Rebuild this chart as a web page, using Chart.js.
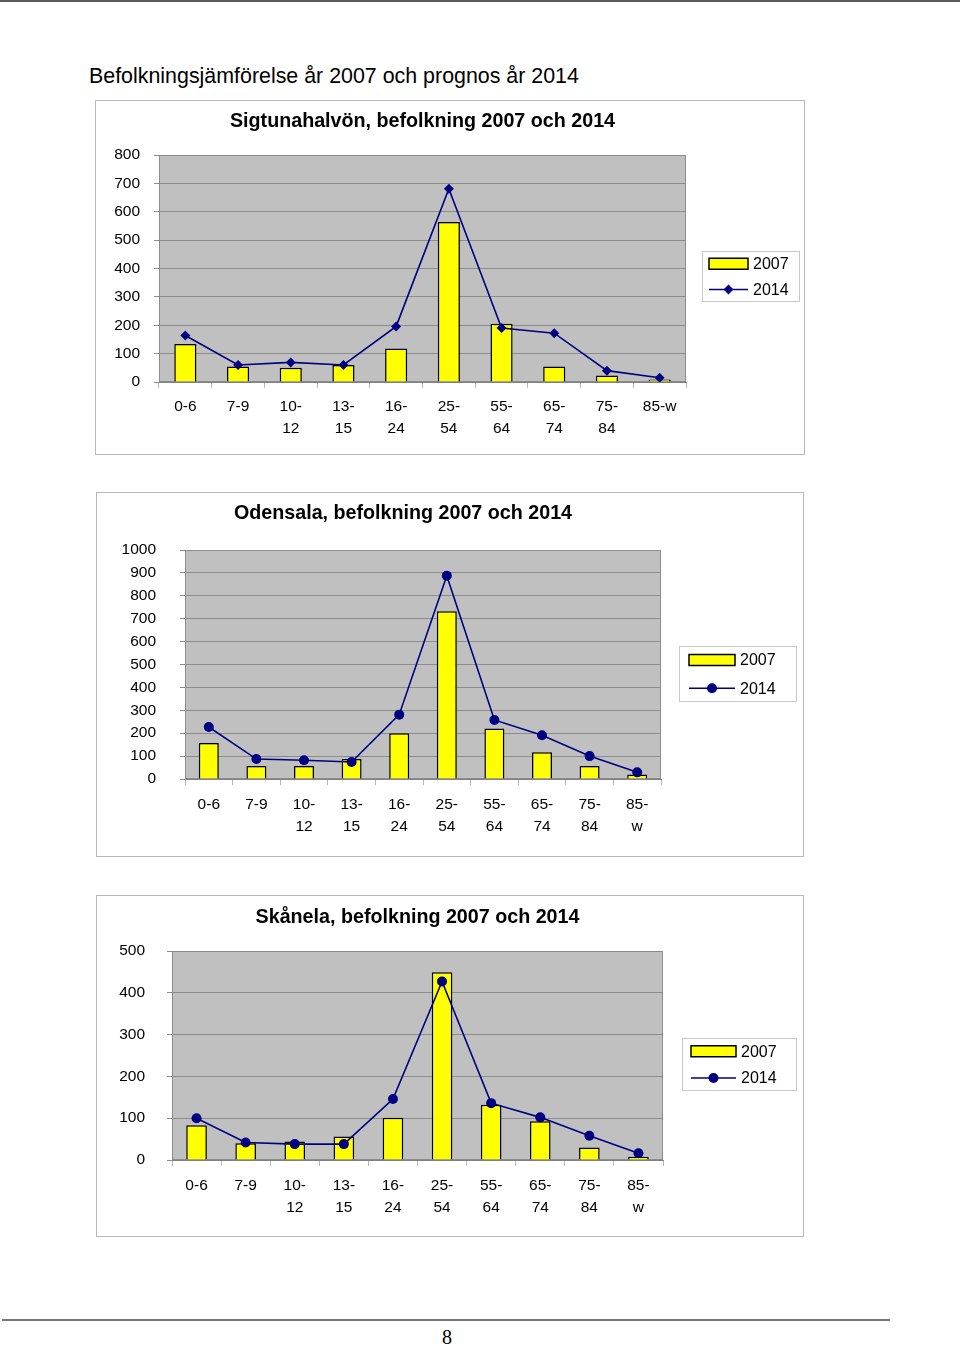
<!DOCTYPE html>
<html>
<head>
<meta charset="utf-8">
<script src="https://cdn.jsdelivr.net/npm/chart.js@4.4.1/dist/chart.umd.min.js"></script>
<style>
  body { margin: 0; background: #fff; width: 960px; height: 1349px; position: relative; overflow: hidden;
         font-family: "Liberation Sans", Arial, sans-serif; }
  .topline { position: absolute; left: 0; top: 0; width: 960px; height: 2px; background: #5a5a5a; }
  .heading { position: absolute; left: 89px; top: 63px; font-size: 21.4px; line-height: 26px; color: #000; }
  .box { position: absolute; }
  .bottomline { position: absolute; left: 2px; top: 1319px; width: 888px; height: 2px; background: #777; }
  .pageno { position: absolute; left: 432px; width: 30px; text-align: center; top: 1326px;
            font: 20px "Liberation Serif", "DejaVu Serif", serif; }
</style>
</head>
<body>
<div class="topline"></div>
<div class="heading">Befolkningsjämförelse år 2007 och prognos år 2014</div>

<div class="box" style="left:95px;top:100px"><canvas id="sigtuna" width="710" height="355"></canvas></div>
<div class="box" style="left:96px;top:492px"><canvas id="odensala" width="708" height="365"></canvas></div>
<div class="box" style="left:96px;top:895px"><canvas id="skanela" width="708" height="342"></canvas></div>

<div class="bottomline"></div>
<div class="pageno">8</div>

<script>
// age groups
const ageGroupsSigtuna = ['0-6', '7-9', ['10-', '12'], ['13-', '15'], ['16-', '24'], ['25-', '54'],
  ['55-', '64'], ['65-', '74'], ['75-', '84'], '85-w'];
const ageGroups = ['0-6', '7-9', ['10-', '12'], ['13-', '15'], ['16-', '24'], ['25-', '54'],
  ['55-', '64'], ['65-', '74'], ['75-', '84'], ['85-', 'w']];
const seriesNames = ['2007', '2014'];

// Sigtunahalvön
const sigtuna2007 = [134, 55, 50, 60, 118, 564, 205, 55, 23, 9];
const sigtuna2014 = [164, 60, 69, 60, 196, 681, 190, 172, 40, 15];
// Odensala
const odensala2007 = [157, 57, 57, 87, 200, 732, 220, 117, 57, 20];
const odensala2014 = [227, 87, 82, 74, 281, 888, 258, 191, 100, 29];
// Skånela
const skanela2007 = [83, 40, 44, 56, 101, 449, 132, 93, 30, 8];
const skanela2014 = [100, 42, 38, 38, 146, 427, 136, 102, 58, 16];

const FONT = '"Liberation Sans", Arial, sans-serif';
Chart.defaults.font.family = FONT;
Chart.defaults.font.size = 15.5;
Chart.defaults.color = '#000';

// box frame + grey plot area
const plotFrame = {
  id: 'plotFrame',
  beforeDraw(chart) {
    const { ctx, chartArea: a, width, height } = chart;
    ctx.save();
    ctx.strokeStyle = '#b8b8b8';
    ctx.lineWidth = 1;
    ctx.strokeRect(0.5, 0.5, width - 1, height - 1);
    ctx.fillStyle = '#c0c0c0';
    ctx.fillRect(a.left, a.top, a.right - a.left, a.bottom - a.top);
    ctx.restore();
  },
  beforeDatasetsDraw(chart) {
    const { ctx, chartArea: a } = chart;
    ctx.save();
    ctx.strokeStyle = '#8c8c8c';
    ctx.lineWidth = 1;
    ctx.strokeRect(a.left + 0.5, a.top + 0.5, a.right - a.left - 1, a.bottom - a.top - 1);
    ctx.restore();
  }
};

// excel style legend in a framed box
const boxLegend = {
  id: 'boxLegend',
  afterDraw(chart, args, o) {
    const { ctx } = chart;
    ctx.save();
    ctx.fillStyle = '#fff';
    ctx.fillRect(o.x, o.y, o.w, o.h);
    ctx.strokeStyle = '#c8c8c8';
    ctx.lineWidth = 1;
    ctx.strokeRect(o.x + 0.5, o.y + 0.5, o.w - 1, o.h - 1);
    ctx.font = '16px ' + FONT;
    ctx.textBaseline = 'middle';
    const sx = o.x + o.inset;
    chart.data.datasets.forEach((ds, i) => {
      const cy = o.y + o.h * (i === 0 ? 0.25 : 0.755);
      if (ds.type === 'bar') {
        ctx.fillStyle = ds.backgroundColor;
        ctx.fillRect(sx, cy - 5.5, o.sw, 11);
        ctx.strokeStyle = '#000';
        ctx.lineWidth = 1.5;
        ctx.strokeRect(sx, cy - 5.5, o.sw, 11);
      } else {
        ctx.strokeStyle = ds.borderColor;
        ctx.lineWidth = 1.6;
        ctx.beginPath();
        ctx.moveTo(sx, cy);
        ctx.lineTo(sx + o.sw, cy);
        ctx.stroke();
        const mx = sx + o.sw / 2, r = ds.pointRadius;
        ctx.fillStyle = ds.pointBackgroundColor;
        ctx.beginPath();
        if (ds.pointStyle === 'rectRot') {
          ctx.moveTo(mx, cy - r); ctx.lineTo(mx + r, cy); ctx.lineTo(mx, cy + r); ctx.lineTo(mx - r, cy);
          ctx.closePath();
        } else {
          ctx.arc(mx, cy, r, 0, Math.PI * 2);
        }
        ctx.fill();
      }
      ctx.fillStyle = '#000';
      ctx.fillText(ds.label, sx + o.sw + 5, cy + 1);
    });
    ctx.restore();
  }
};

function makeChart(id, title, labels, bars, line, yMax, marker, g) {
  const canvas = document.getElementById(id);
  const W = canvas.width, H = canvas.height;
  const titleLH = 19.7 * 1.2;
  const tTop = g.titleY - titleLH / 2;
  const padL = 10;
  const spacer = g.rightSpacer || 0;
  return new Chart(canvas, {
    data: {
      labels: labels,
      datasets: [{
        type: 'bar',
        label: seriesNames[0],
        data: bars,
        backgroundColor: '#ffff00',
        borderColor: '#000',
        borderWidth: 1.5,
        barPercentage: 0.42,
        categoryPercentage: 1,
        order: 2
      }, {
        type: 'line',
        label: seriesNames[1],
        data: line,
        borderColor: '#000080',
        borderWidth: 1.6,
        pointStyle: marker,
        pointRadius: 5,
        pointBackgroundColor: '#000080',
        pointBorderColor: '#000080',
        pointBorderWidth: 0,
        tension: 0,
        order: 1
      }]
    },
    options: {
      responsive: false,
      animation: false,
      events: [],
      layout: { padding: { left: padL, right: W - g.right - spacer, top: 0, bottom: 0 } },
      plugins: {
        legend: { display: false },
        tooltip: { enabled: false },
        title: {
          display: true,
          text: title,
          fullSize: spacer > 0,
          color: '#000',
          font: { size: 19.7, weight: 'bold', lineHeight: 1.2 },
          padding: { top: tTop, bottom: g.top - tTop - titleLH }
        },
        boxLegend: g.legend
      },
      scales: {
        x: {
          grid: { display: true, drawOnChartArea: false, drawTicks: true, tickLength: 6, color: '#b8b8b8' },
          border: { display: true, color: '#808080' },
          ticks: { padding: g.xPad, maxRotation: 0, autoSkip: false, font: { lineHeight: 1.4 } },
          afterFit(s) { s.height = H - g.bottom; }
        },
        y: {
          min: 0,
          max: yMax,
          grid: { color: '#8c8c8c', tickLength: 5, drawTicks: true },
          border: { display: true, color: '#8c8c8c' },
          ticks: { stepSize: 100, padding: g.yPad, callback: v => String(v) },
          afterFit(s) { s.width = g.left - padL; }
        },
        // empty right-hand strip so the title centres like the original
        side: {
          position: 'right',
          display: spacer > 0,
          grid: { display: false },
          border: { display: false },
          ticks: { display: false },
          afterFit(s) { s.width = spacer; }
        }
      }
    },
    plugins: [plotFrame, boxLegend]
  });
}

makeChart('sigtuna', 'Sigtunahalvön, befolkning 2007 och 2014', ageGroupsSigtuna,
  sigtuna2007, sigtuna2014, 800, 'rectRot',
  { left: 64, top: 55, right: 591, bottom: 282, titleY: 22, xPad: 8, yPad: 14,
    legend: { x: 607, y: 151, w: 98, h: 51, inset: 7, sw: 39 } });

makeChart('odensala', 'Odensala, befolkning 2007 och 2014', ageGroups,
  odensala2007, odensala2014, 1000, 'circle',
  { left: 89, top: 58, right: 565, bottom: 287, titleY: 22, xPad: 9, yPad: 24, rightSpacer: 39,
    legend: { x: 583, y: 154, w: 118, h: 56, inset: 10, sw: 46 } });

makeChart('skanela', 'Skånela, befolkning 2007 och 2014', ageGroups,
  skanela2007, skanela2014, 500, 'circle',
  { left: 76, top: 56, right: 567, bottom: 265, titleY: 23, xPad: 9, yPad: 22,
    legend: { x: 586, y: 143, w: 115, h: 53, inset: 9, sw: 45 } });
</script>
</body>
</html>
